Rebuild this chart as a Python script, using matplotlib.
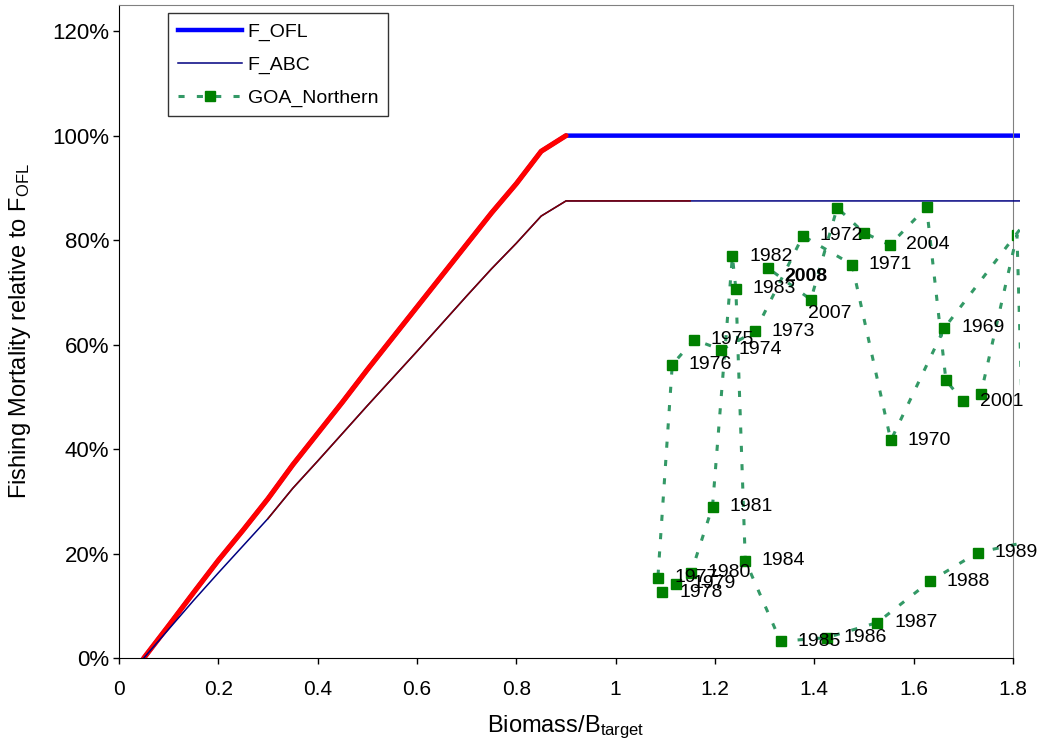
import matplotlib
matplotlib.use('Agg')
import matplotlib.pyplot as plt
from matplotlib.patches import Rectangle
from matplotlib.lines import Line2D

plt.rcParams['font.family'] = ['Liberation Sans', 'DejaVu Sans']
plt.rcParams['mathtext.fontset'] = 'custom'
plt.rcParams['mathtext.rm'] = 'Liberation Sans'
plt.rcParams['mathtext.it'] = 'Liberation Sans'

# Harvest control rule (fraction of F_OFL against B/Btarget)
b_ratio = [0.05, 0.10, 0.15, 0.20, 0.25, 0.30, 0.35, 0.40, 0.45, 0.50,
           0.55, 0.60, 0.65, 0.70, 0.75, 0.80, 0.85, 0.90, 1.15, 2.50]
f_ofl = [0.000, 0.062, 0.125, 0.187, 0.245, 0.305, 0.370, 0.430, 0.490, 0.552,
         0.612, 0.672, 0.732, 0.792, 0.852, 0.908, 0.970, 1.000, 1.000, 1.000]
f_abc = [0.000, 0.055, 0.110, 0.163, 0.215, 0.267, 0.325, 0.377, 0.430, 0.483,
         0.535, 0.587, 0.640, 0.693, 0.745, 0.794, 0.846, 0.875, 0.875, 0.875]

# GOA Northern stock trajectory by year
years = list(range(1968, 2009))
goa_b = [1.870, 1.662, 1.554, 1.476, 1.377, 1.281, 1.213, 1.158, 1.114, 1.085,
         1.094, 1.121, 1.152, 1.195, 1.235, 1.242, 1.261, 1.332, 1.425, 1.527,
         1.633, 1.729, 1.950, 2.100, 2.250, 2.300, 2.200, 2.100, 1.980, 1.900,
         1.830, 1.808, 1.735, 1.700, 1.665, 1.626, 1.552, 1.500, 1.446, 1.393,
         1.306]
goa_f = [0.890, 0.632, 0.4165, 0.753, 0.808, 0.6255, 0.590, 0.6095, 0.5616, 0.154,
         0.126, 0.142, 0.1635, 0.290, 0.769, 0.707, 0.1865, 0.032, 0.039, 0.068,
         0.147, 0.202, 0.247, 0.330, 0.420, 0.500, 0.450, 0.380, 0.300, 0.150,
         0.100, 0.810, 0.5045, 0.4913, 0.5315, 0.863, 0.7907, 0.814, 0.862, 0.686,
         0.747]
label_years = list(range(1969, 1990)) + [2001, 2004, 2007, 2008]
label_offsets = {2007: (-2, -10), 2008: (12, -6.5)}

xticks = [0, 0.2, 0.4, 0.6, 0.8, 1.0, 1.2, 1.4, 1.6, 1.8]
yticks = [0, 0.2, 0.4, 0.6, 0.8, 1.0, 1.2]

fig = plt.figure(figsize=(10.41, 7.51), dpi=100)
ax = fig.add_axes([0.1143, 0.1238, 0.8588, 0.8695])

# lines run a little past the right border before being cut off
clip = Rectangle((0, 0), 1.815, 1.25, transform=ax.transData)

l_ofl, = ax.plot(b_ratio, f_ofl, color='#0000FF', lw=3.2, label='F_OFL', zorder=2)
lo = [i for i, b in enumerate(b_ratio) if b <= 0.9]
l_red, = ax.plot([b_ratio[i] for i in lo], [f_ofl[i] for i in lo], color='#FF0000', lw=3.7,
                 solid_capstyle='round', solid_joinstyle='round', zorder=3)
l_abc, = ax.plot(b_ratio, f_abc, color='#000080', lw=1.1, label='F_ABC', zorder=4)
mid = [i for i, b in enumerate(b_ratio) if 0.3 <= b <= 1.15]
l_mar, = ax.plot([b_ratio[i] for i in mid], [f_abc[i] for i in mid], color='#800000',
                 lw=1.1, zorder=5)

l_goa, = ax.plot(goa_b, goa_f, color='#339966', lw=2.2, ls=(0, (2, 4)), zorder=6)
ax.plot(goa_b, goa_f, ls='none', marker='s', ms=7, color='#008000', zorder=7)
for ln in [l_ofl, l_red, l_abc, l_mar, l_goa]:
    ln.set_clip_path(clip)

for yr, b, f in zip(years, goa_b, goa_f):
    if yr not in label_years:
        continue
    dx, dy = label_offsets.get(yr, (12, 0))
    ax.annotate(str(yr), (b, f), xytext=(dx, dy), textcoords='offset points',
                ha='left', va='center', fontsize=14,
                fontweight='bold' if yr == 2008 else 'normal', zorder=8)

goa_handle = Line2D([], [], color='#339966', lw=2.2, ls=(0, (2, 4)), marker='s', ms=7,
                    mfc='#008000', mec='#008000')
leg = ax.legend([l_ofl, l_abc, goa_handle], ['F_OFL', 'F_ABC', 'GOA_Northern'],
                loc='upper left', bbox_to_anchor=(0.0548, 0.9877), borderaxespad=0,
                fontsize=14, frameon=True, fancybox=False, handlelength=3.3,
                handletextpad=0.3, labelspacing=0.78, borderpad=0.5)
leg.get_frame().set_edgecolor('black')
leg.get_frame().set_linewidth(1)
leg.set_zorder(10)

ax.set_xlim(0, 1.8)
ax.set_ylim(0, 1.25)
ax.set_xticks(xticks)
ax.set_xticklabels([f'{v:g}' for v in xticks])
ax.set_yticks(yticks)
ax.set_yticklabels([f'{v * 100:.0f}%' for v in yticks])
ax.tick_params(axis='x', direction='out', length=4, width=1, labelsize=15, pad=12)
ax.tick_params(axis='y', direction='out', length=4, width=1, labelsize=16, pad=3)

for side in ['top', 'right']:
    ax.spines[side].set_color('#808080')
for side in ['left', 'bottom']:
    ax.spines[side].set_color('black')

ax.set_xlabel('Biomass/B$_{\\mathregular{target}}$', fontsize=17, labelpad=10)
ax.set_ylabel('Fishing Mortality relative to F$_{\\mathregular{OFL}}$', fontsize=17, labelpad=14)

fig.savefig('out.png', dpi=100)
